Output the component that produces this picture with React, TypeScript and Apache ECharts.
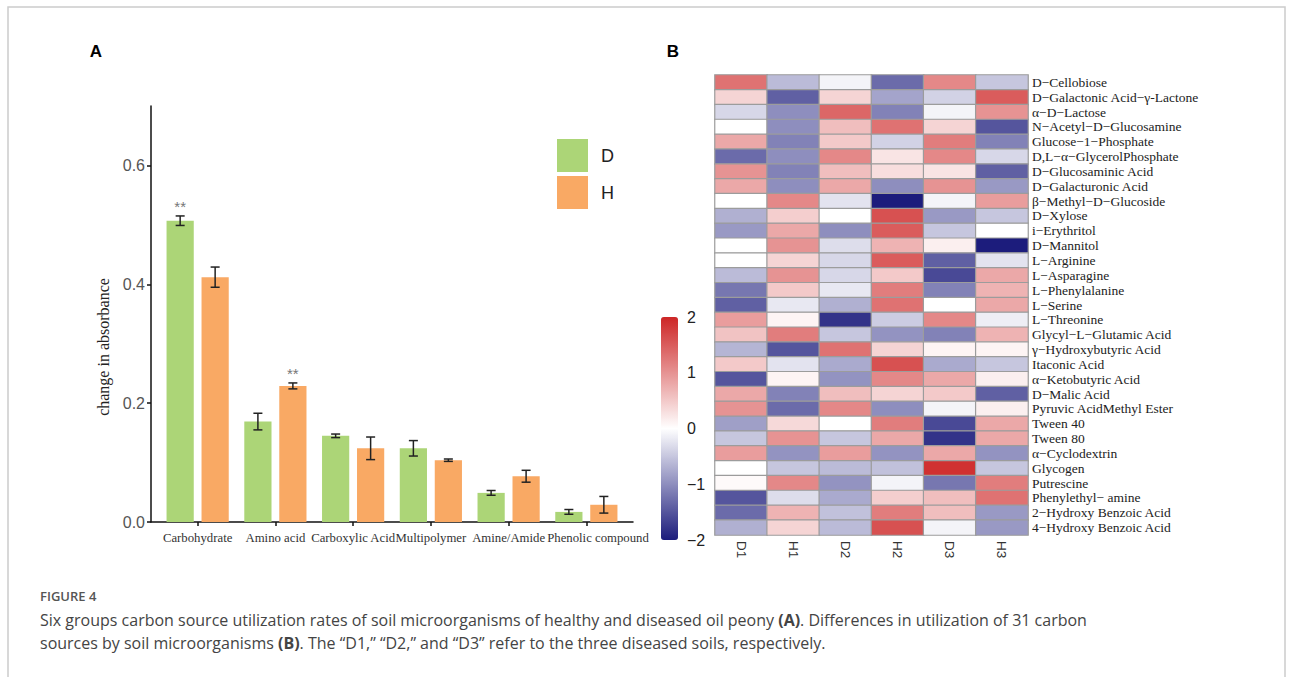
import React, { useEffect, useRef } from "react";
import * as echarts from "echarts";

// ---------- Panel A data ----------
const categories = ["Carbohydrate", "Amino acid", "Carboxylic Acid", "Multipolymer", "Amine/Amide", "Phenolic compound"];
const dMeans = [0.507, 0.169, 0.145, 0.124, 0.049, 0.017];
const dErr = [0.008, 0.014, 0.003, 0.013, 0.004, 0.004];
const hMeans = [0.412, 0.229, 0.124, 0.104, 0.077, 0.029];
const hErr = [0.017, 0.005, 0.019, 0.002, 0.01, 0.014];
const dSig = ["**", "", "", "", "", ""];
const hSig = ["", "**", "", "", "", ""];
const yTicks = [0, 0.2, 0.4, 0.6];

// ---------- Panel B data ----------
const samples = ["D1", "H1", "D2", "H2", "D3", "H3"];
const sources = [
  "D−Cellobiose",
  "D−Galactonic Acid−γ-Lactone",
  "α−D−Lactose",
  "N−Acetyl−D−Glucosamine",
  "Glucose−1−Phosphate",
  "D,L−α−GlycerolPhosphate",
  "D−Glucosaminic Acid",
  "D−Galacturonic Acid",
  "β−Methyl−D−Glucoside",
  "D−Xylose",
  "i−Erythritol",
  "D−Mannitol",
  "L−Arginine",
  "L−Asparagine",
  "L−Phenylalanine",
  "L−Serine",
  "L−Threonine",
  "Glycyl−L−Glutamic Acid",
  "γ−Hydroxybutyric Acid",
  "Itaconic Acid",
  "α−Ketobutyric Acid",
  "D−Malic Acid",
  "Pyruvic AcidMethyl Ester",
  "Tween 40",
  "Tween 80",
  "α−Cyclodextrin",
  "Glycogen",
  "Putrescine",
  "Phenylethyl− amine",
  "2−Hydroxy Benzoic Acid",
  "4−Hydroxy Benzoic Acid",
];
const colD1 = [1.3, 0.4, -0.35, 0, 0.8, -1.3, 1.0, 0.8, 0, -0.7, -0.9, 0, 0, -0.6, -1.2, -1.4, 0.9, 0.55, -0.65, 0.5, -1.5, 0.8, 1.0, -0.85, -0.5, 0.9, 0, 0.05, -1.5, -1.3, -0.7];
const colH1 = [-0.6, -1.4, -1.0, -1.0, -1.1, -1.0, -1.1, -1.0, 1.1, 0.45, 0.8, 1.0, 0.4, 1.0, 0.5, -0.2, 0.1, 1.2, -1.5, -0.25, 0.1, -1.1, -1.3, 0.35, 1.0, -0.95, -0.5, 1.1, -0.3, 0.7, 0.4];
const colD2 = [-0.1, 0.4, 1.4, 0.6, 0.5, 1.1, 0.6, 0.8, -0.25, 0, -1.0, -0.3, -0.35, -0.35, -0.2, -0.7, -1.8, -0.5, 1.3, -0.75, -0.95, 0.6, 1.1, 0, -0.5, 0.9, -0.6, -0.95, -0.75, -0.55, -0.6];
const colH2 = [-1.3, -0.8, -1.1, 1.3, -0.4, 0.25, 0.3, -1.0, -2.0, 1.6, 1.5, 0.7, 1.5, 0.5, 1.2, 1.3, -0.45, -0.95, 0.4, 1.6, 1.1, 0.4, -1.0, 1.2, 0.8, -0.95, -0.55, -0.1, 0.45, 1.2, 1.6];
const colD3 = [1.1, -0.4, -0.1, 0.4, 1.2, 1.1, 0.25, 1.0, -0.1, -0.9, -0.5, 0.15, -1.4, -1.6, -1.1, 0, 1.1, -1.1, 0.1, -0.75, 0.8, 0.5, -0.1, -1.6, -1.8, 0.8, 1.9, -1.2, 0.6, 0.6, -0.1];
const colH3 = [-0.5, 1.5, 1.0, -1.5, -1.1, -0.35, -1.4, -0.9, 0.9, -0.5, 0, -2.0, -0.25, 0.8, 0.7, 0.8, -0.15, 0.7, 0.1, -0.5, 0.15, -1.4, 0.15, 0.8, 0.8, -0.95, -0.5, 1.2, 1.3, -0.9, -0.9];
const heatColumns = [colD1, colH1, colD2, colH2, colD3, colH3];
const colorTicks = [-2, -1, 0, 1, 2];

const SERIF = '"Liberation Serif", "Times New Roman", serif';
const SANS = '"Liberation Sans", Arial, sans-serif';
const CAPTION = '"Open Sans", "Noto Sans", sans-serif';

function makeBarRender(offset: number, sig: string[]) {
  return (params: any, api: any) => {
    const x = api.value(0) + offset;
    const v = api.value(1);
    const e = api.value(2);
    const half = 0.175;
    const cap = 0.058;
    const p0 = api.coord([x - half, v]);
    const p1 = api.coord([x + half, 0]);
    const top = api.coord([x, v + e]);
    const bot = api.coord([x, v - e]);
    const cl = api.coord([x - cap, v])[0];
    const cr = api.coord([x + cap, v])[0];
    const lineStyle = { stroke: "#222", lineWidth: 1.5 };
    const children: any[] = [
      {
        type: "rect",
        shape: { x: p0[0], y: p0[1], width: p1[0] - p0[0], height: p1[1] - p0[1] },
        style: { fill: api.visual("color") },
      },
      { type: "line", shape: { x1: top[0], y1: top[1], x2: bot[0], y2: bot[1] }, style: lineStyle },
      { type: "line", shape: { x1: cl, y1: top[1], x2: cr, y2: top[1] }, style: lineStyle },
      { type: "line", shape: { x1: cl, y1: bot[1], x2: cr, y2: bot[1] }, style: lineStyle },
    ];
    const s = sig[params.dataIndex];
    if (s) {
      children.push({
        type: "text",
        style: {
          text: s,
          x: top[0],
          y: top[1] - 9,
          align: "center",
          verticalAlign: "middle",
          fill: "#777",
          fontSize: 15,
          fontFamily: SANS,
        },
      });
    }
    return { type: "group", children };
  };
}

export default function App() {
  const ref = useRef<HTMLDivElement>(null);
  useEffect(() => {
    if (!ref.current) return;
    const chart = echarts.init(ref.current, undefined, { renderer: "svg" });
    const catIdx = categories.map((_, i) => i + 1);
    // the last category label sits a little to the right of its tick in the original
    const labelPos = catIdx.map((v, i) => (i === catIdx.length - 1 ? v + 0.15 : v));
    const heatData: any[] = [];
    heatColumns.forEach((col, c) => col.forEach((v, r) => heatData.push([c, r, v])));

    const option: any = {
      animation: false,
      backgroundColor: "#ffffff",
      grid: [
        { left: 151, top: 106, width: 482, height: 416 },
        { left: 715, top: 75, width: 313, height: 460 },
        { left: 661, top: 317, width: 17, height: 223 },
      ],
      legend: {
        data: ["D", "H"],
        orient: "vertical",
        left: 552,
        top: 134,
        itemWidth: 31,
        itemHeight: 33,
        itemGap: 4,
        icon: "rect",
        textStyle: { fontSize: 18, color: "#222", fontFamily: SANS, padding: [0, 0, 0, 8] },
      },
      xAxis: [
        {
          gridIndex: 0,
          type: "value",
          min: 0.4,
          max: 6.6,
          splitLine: { show: false },
          axisLine: { show: true, lineStyle: { color: "#111", width: 1.5 } },
          axisTick: { show: true, customValues: catIdx, length: 4, lineStyle: { color: "#111", width: 1.5 } },
          axisLabel: {
            customValues: labelPos,
            formatter: (v: number) => categories[Math.round(v) - 1] ?? "",
            fontFamily: SERIF,
            fontSize: 12.75,
            color: "#333",
            margin: 9,
            showMinLabel: true,
            showMaxLabel: true,
            hideOverlap: false,
          },
        },
        {
          gridIndex: 1,
          type: "category",
          data: samples,
          position: "bottom",
          axisLine: { show: false },
          axisTick: { show: false },
          axisLabel: { rotate: -90, interval: 0, fontSize: 13.5, fontFamily: SANS, color: "#333", margin: 6 },
        },
        { gridIndex: 2, type: "value", min: 0, max: 1, show: false },
      ],
      yAxis: [
        {
          gridIndex: 0,
          type: "value",
          min: 0,
          max: 0.7,
          splitLine: { show: false },
          axisLine: { show: true, lineStyle: { color: "#111", width: 1.5 } },
          axisTick: { show: true, customValues: yTicks, length: 4, lineStyle: { color: "#111", width: 1.5 } },
          axisLabel: {
            customValues: yTicks,
            formatter: (v: number) => v.toFixed(1),
            fontFamily: SANS,
            fontSize: 16,
            color: "#555",
            margin: 6,
          },
        },
        {
          gridIndex: 1,
          type: "category",
          data: sources,
          inverse: true,
          position: "right",
          axisLine: { show: false },
          axisTick: { show: false },
          axisLabel: { interval: 0, fontFamily: SERIF, fontSize: 13.5, color: "#222", margin: 4 },
        },
        {
          gridIndex: 2,
          type: "value",
          min: -2,
          max: 2,
          interval: 1,
          position: "right",
          splitLine: { show: false },
          axisLine: { show: false },
          axisTick: { show: false },
          axisLabel: {
            customValues: colorTicks,
            formatter: (v: number) => (v < 0 ? "−" + Math.abs(v) : String(v)),
            fontFamily: SANS,
            fontSize: 16,
            color: "#222",
            margin: 9,
            showMinLabel: true,
            showMaxLabel: true,
          },
        },
      ],
      visualMap: {
        type: "continuous",
        min: -2,
        max: 2,
        seriesIndex: 2,
        orient: "vertical",
        left: 646,
        top: 302,
        itemWidth: 17,
        itemHeight: 223,
        calculable: false,
        inRange: { color: ["#1c1c7c", "#ffffff", "#CD2626"] },
      },
      series: [
        {
          name: "D",
          type: "custom",
          xAxisIndex: 0,
          yAxisIndex: 0,
          itemStyle: { color: "#acd577" },
          renderItem: makeBarRender(-0.225, dSig),
          encode: { x: 0, y: 1 },
          data: dMeans.map((v, i) => [i + 1, v, dErr[i]]),
        },
        {
          name: "H",
          type: "custom",
          xAxisIndex: 0,
          yAxisIndex: 0,
          itemStyle: { color: "#f9a964" },
          renderItem: makeBarRender(0.225, hSig),
          encode: { x: 0, y: 1 },
          data: hMeans.map((v, i) => [i + 1, v, hErr[i]]),
        },
        {
          name: "heat",
          type: "heatmap",
          xAxisIndex: 1,
          yAxisIndex: 1,
          data: heatData,
          itemStyle: { borderColor: "#9c9c9c", borderWidth: 1.2 },
          emphasis: { disabled: true },
        },
        { name: "scale", type: "scatter", xAxisIndex: 2, yAxisIndex: 2, data: [], silent: true },
      ],
      graphic: [
        {
          type: "rect",
          shape: { x: 8, y: 7, width: 1277, height: 700 },
          style: { fill: "none", stroke: "#cccccc", lineWidth: 1.5 },
          silent: true,
        },
        {
          type: "text",
          style: { text: "A", x: 96, y: 51, align: "center", verticalAlign: "middle", fontSize: 17, fontWeight: "bold", fontFamily: SANS, fill: "#000" },
        },
        {
          type: "text",
          style: { text: "B", x: 673, y: 51, align: "center", verticalAlign: "middle", fontSize: 17, fontWeight: "bold", fontFamily: SANS, fill: "#000" },
        },
        {
          type: "text",
          x: 103,
          y: 347,
          rotation: Math.PI / 2,
          style: { text: "change in absorbance", x: 0, y: 0, align: "center", verticalAlign: "middle", fontSize: 16, fontFamily: SERIF, fill: "#222" },
        },
        {
          type: "text",
          style: { text: "FIGURE 4", x: 40, y: 596, verticalAlign: "middle", fontSize: 13, fontWeight: 600, fontFamily: CAPTION, fill: "#555" },
        },
        {
          type: "text",
          style: {
            text: "Six groups carbon source utilization rates of soil microorganisms of healthy and diseased oil peony {b|(A)}. Differences in utilization of 31 carbon",
            x: 40,
            y: 620,
            verticalAlign: "middle",
            fontSize: 16,
            fontFamily: CAPTION,
            fill: "#444",
            rich: { b: { fontSize: 16, fontFamily: CAPTION, fontWeight: "bold", fill: "#444" } },
          },
        },
        {
          type: "text",
          style: {
            text: "sources by soil microorganisms {b|(B)}. The “D1,” “D2,” and “D3” refer to the three diseased soils, respectively.",
            x: 40,
            y: 643,
            verticalAlign: "middle",
            fontSize: 16,
            fontFamily: CAPTION,
            fill: "#444",
            rich: { b: { fontSize: 16, fontFamily: CAPTION, fontWeight: "bold", fill: "#444" } },
          },
        },
      ],
    };
    chart.setOption(option);
    return () => chart.dispose();
  }, []);
  return <div ref={ref} style={{ position: "fixed", left: 0, top: 0, width: 1293, height: 677 }} />;
}
